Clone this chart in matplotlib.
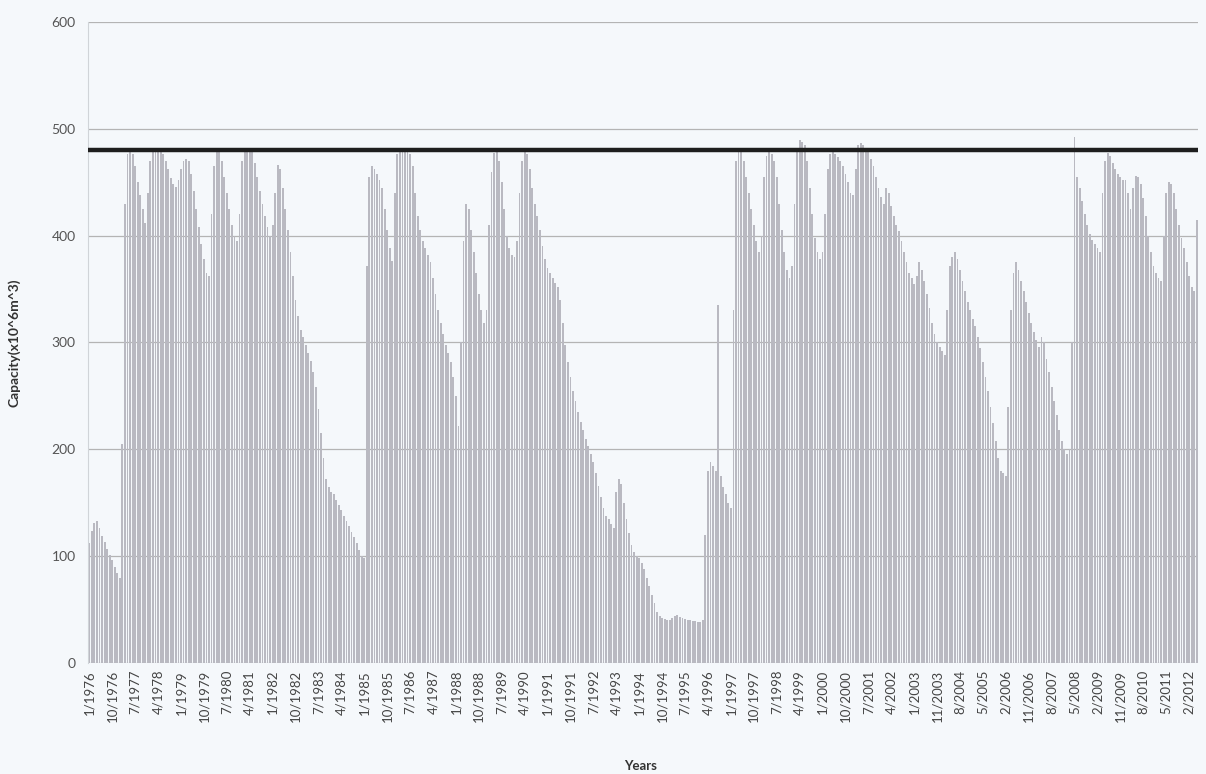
import matplotlib.pyplot as plt

# monthly reservoir capacity (x10^6 m^3), one list per year
cap_1976 = [112, 124, 131, 133, 126, 119, 113, 107, 101, 96, 90, 84]
cap_1977 = [80, 205, 430, 476, 478, 476, 465, 450, 438, 425, 412, 440]
cap_1978 = [470, 478, 478, 478, 478, 476, 470, 462, 454, 448, 446, 452]
cap_1979 = [462, 470, 472, 470, 458, 442, 425, 408, 392, 378, 365, 362]
cap_1980 = [420, 465, 478, 478, 470, 455, 440, 425, 410, 400, 395, 420]
cap_1981 = [470, 480, 480, 480, 478, 468, 455, 442, 430, 418, 408, 400]
cap_1982 = [410, 440, 466, 462, 445, 425, 405, 385, 362, 340, 325, 312]
cap_1983 = [305, 298, 290, 283, 272, 258, 238, 215, 192, 172, 165, 160]
cap_1984 = [158, 153, 148, 143, 138, 133, 128, 123, 118, 112, 106, 100]
cap_1985 = [98, 372, 455, 465, 462, 458, 452, 445, 425, 405, 388, 376]
cap_1986 = [440, 476, 478, 480, 480, 478, 476, 465, 440, 418, 405, 395]
cap_1987 = [388, 382, 375, 360, 345, 330, 318, 308, 298, 290, 282, 268]
cap_1988 = [250, 222, 300, 395, 430, 425, 405, 385, 365, 345, 330, 318]
cap_1989 = [330, 410, 460, 477, 478, 470, 450, 425, 400, 388, 382, 380]
cap_1990 = [395, 440, 470, 478, 476, 462, 445, 430, 418, 405, 390, 378]
cap_1991 = [370, 365, 360, 356, 352, 340, 318, 298, 282, 268, 255, 245]
cap_1992 = [235, 226, 218, 210, 203, 196, 188, 178, 166, 155, 145, 138]
cap_1993 = [135, 130, 126, 160, 172, 168, 150, 135, 122, 110, 104, 100]
cap_1994 = [98, 94, 88, 80, 72, 64, 56, 48, 44, 42, 41, 40]
cap_1995 = [40, 42, 44, 45, 43, 42, 41, 40, 40, 39, 39, 38]
cap_1996 = [38, 40, 120, 180, 188, 184, 180, 335, 175, 165, 158, 150]
cap_1997 = [145, 330, 470, 480, 478, 470, 455, 440, 425, 410, 395, 385]
cap_1998 = [400, 455, 475, 478, 476, 470, 455, 430, 405, 385, 368, 360]
cap_1999 = [372, 430, 482, 490, 488, 485, 470, 445, 420, 398, 385, 378]
cap_2000 = [385, 420, 462, 476, 478, 476, 474, 470, 465, 458, 450, 440]
cap_2001 = [438, 462, 485, 487, 485, 482, 478, 472, 465, 455, 445, 436]
cap_2002 = [430, 445, 440, 428, 418, 410, 404, 395, 385, 375, 365, 360]
cap_2003 = [355, 362, 375, 368, 358, 345, 332, 318, 308, 300, 296]  # 6/2003 missing
cap_2004 = [292, 288, 330, 372, 380, 385, 378, 368, 358, 348, 338, 330]
cap_2005 = [322, 315, 305, 295, 282, 268, 255, 240, 225, 208, 192, 180]
cap_2006 = [178, 175, 240, 330, 365, 375, 368, 358, 348, 338, 328, 318]
cap_2007 = [310, 302, 296, 305, 300, 285, 272, 258, 245, 232, 218, 208]
cap_2008 = [200, 196, 200, 300, 492, 455, 445, 432, 420, 410, 402, 396]
cap_2009 = [392, 388, 385, 440, 470, 477, 475, 468, 462, 458, 455, 452]
cap_2010 = [452, 440, 425, 445, 456, 455, 448, 435, 418, 400, 385, 372]
cap_2011 = [365, 360, 358, 400, 440, 450, 448, 440, 425, 410, 398, 388]
cap_2012 = [375, 362, 352, 348, 415]

MAX_LEVEL = 480
MISSING_MONTH = (2003, 6)

years_data = [
    cap_1976, cap_1977, cap_1978, cap_1979, cap_1980, cap_1981, cap_1982,
    cap_1983, cap_1984, cap_1985, cap_1986, cap_1987, cap_1988, cap_1989,
    cap_1990, cap_1991, cap_1992, cap_1993, cap_1994, cap_1995, cap_1996,
    cap_1997, cap_1998, cap_1999, cap_2000, cap_2001, cap_2002, cap_2003,
    cap_2004, cap_2005, cap_2006, cap_2007, cap_2008, cap_2009, cap_2010,
    cap_2011, cap_2012,
]
capacity = [v for year in years_data for v in year]

months = []
for year in range(1976, 2013):
    for m in range(1, 13):
        if (year, m) == MISSING_MONTH:
            continue
        months.append(f"{m}/{year}")
months = months[:len(capacity)]

plt.rcParams['font.family'] = ['Lato', 'DejaVu Sans']
bg = '#f5f8fb'

fig = plt.figure(figsize=(12.06, 7.74), dpi=100, facecolor=bg)
ax = fig.add_axes([0.073, 0.1434, 0.9204, 0.8282], facecolor=bg)

x = list(range(len(capacity)))
ax.bar(x, capacity, width=0.72, color='#b9b9c1', linewidth=0, zorder=2)
ax.axhline(MAX_LEVEL, color='#1e1e1e', linewidth=3.2, zorder=3)

ax.set_xlim(-0.5, len(capacity) - 0.5)
ax.set_ylim(0, 600)
ax.set_yticks(range(0, 601, 100))
ax.yaxis.grid(True, color='#b4b4b4', linewidth=0.9, zorder=0)
ax.set_axisbelow(True)

ticks = x[::9]
ax.set_xticks(ticks)
ax.set_xticklabels([months[i] for i in ticks], rotation=90, fontsize=9.5, color='#444444')
ax.tick_params(axis='both', length=0)
ax.tick_params(axis='y', labelsize=10, labelcolor='#555555', pad=9)
ax.tick_params(axis='x', pad=5)

for side in ['top', 'right', 'bottom']:
    ax.spines[side].set_visible(False)
ax.spines['left'].set_color('#d0d4d8')

ax.set_ylabel("Capacity(x10^6m^3)", fontsize=10, fontweight='bold', color='#333333', labelpad=22)
fig.text(0.531, 0.002, "Years", ha='center', va='bottom', fontsize=9.5,
         fontweight='bold', color='#333333')

fig.savefig('out.png', dpi=100, facecolor=bg)
